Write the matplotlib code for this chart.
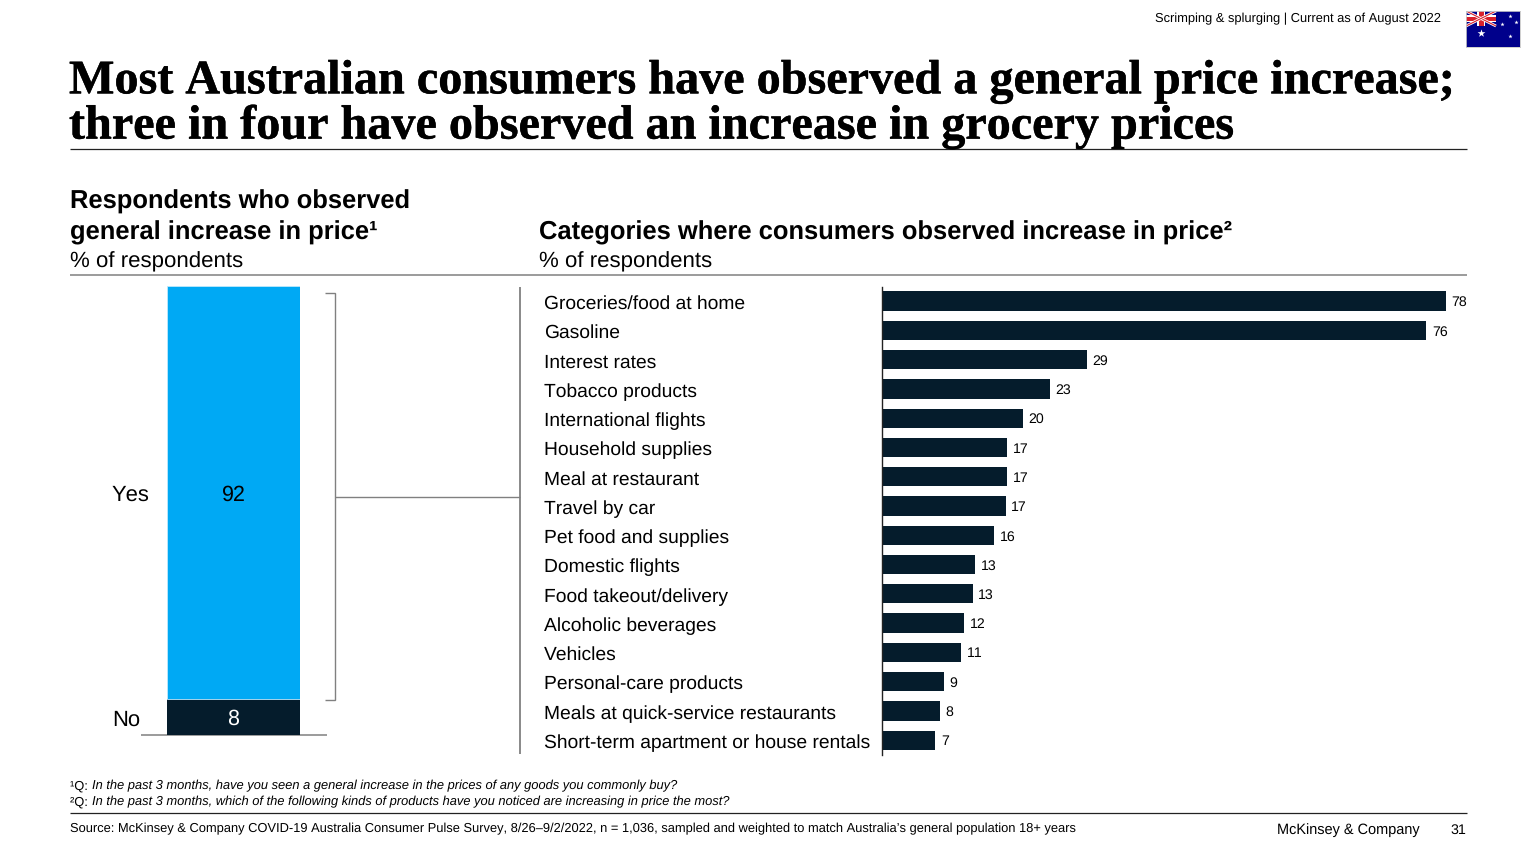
import matplotlib
matplotlib.use("Agg")
import matplotlib.pyplot as plt
import matplotlib.patheffects as pe
from matplotlib.patches import Rectangle
from matplotlib.transforms import ScaledTranslation

W, H = 1536, 864
SANS = "Liberation Sans"
SERIF = "Liberation Serif"
NAVY = "#051C2C"
BLUE = "#00A9F4"
GRAY = "#808080"

categories = [
    "Groceries/food at home", "Gasoline", "Interest rates", "Tobacco products",
    "International flights", "Household supplies", "Meal at restaurant",
    "Travel by car", "Pet food and supplies", "Domestic flights",
    "Food takeout/delivery", "Alcoholic beverages", "Vehicles",
    "Personal-care products", "Meals at quick-service restaurants",
    "Short-term apartment or house rentals",
]
category_values = [78.3, 75.6, 28.5, 23.3, 19.6, 17.4, 17.4, 17.2,
                   15.6, 12.9, 12.6, 11.4, 11.0, 8.6, 8.1, 7.4]
category_labels = [78, 76, 29, 23, 20, 17, 17, 17, 16, 13, 13, 12, 11, 9, 8, 7]
general_labels = ["No", "Yes"]
general_values = [8, 92]

plt.rcParams["font.family"] = [SANS, "DejaVu Sans"]
plt.rcParams["text.hinting"] = "no_hinting"
plt.rcParams["text.kerning_factor"] = 6
fig = plt.figure(figsize=(W / 100, H / 100), dpi=100)


def px_axes(x0, y0, x1, y1, **kwargs):
    """Axes from pixel box, y counted from the top of the image"""
    return fig.add_axes([x0 / W, 1 - y1 / H, (x1 - x0) / W, (y1 - y0) / H], **kwargs)


bg = px_axes(0, 0, W, H)
bg.set_xlim(0, W)
bg.set_ylim(H, 0)
bg.axis("off")


def label(x, y, s, size=14.5, **kwargs):
    kwargs.setdefault("va", "center")
    kwargs.setdefault("color", "black")
    return bg.text(x, y, s, fontsize=size, **kwargs)


def rule(xs, ys, lw=1.0, color=GRAY):
    bg.plot(xs, ys, color=color, lw=lw, solid_capstyle="butt", solid_joinstyle="miter")


# header
label(1441, 18.5, "Scrimping & splurging | Current as of August 2022", size=9.3, ha="right")
title_lines = [
    (82, "Most Australian consumers have observed a general price increase;"),
    (127, "three in four have observed an increase in grocery prices"),
]
for y, line in title_lines:
    t = label(69, y, line, size=34.68, family=SERIF, weight="bold")
    t.set_path_effects([pe.withStroke(linewidth=0.3, foreground="black")])
rule([70, 1467], [149, 149], lw=0.9, color="#222222")

# flag
flag = px_axes(1466, 11, 1520, 47)
flag.set_xlim(0, 54)
flag.set_ylim(36, 0)
flag.set_xticks([])
flag.set_yticks([])
flag.set_facecolor("#00008B")
for s in flag.spines.values():
    s.set_color("#C8C8C8")
    s.set_linewidth(0.6)
for (x0, y0, x1, y1) in [(0, 0, 30, 15), (0, 15, 30, 0)]:
    flag.plot([x0, x1], [y0, y1], color="white", lw=2.0, solid_capstyle="butt")
    flag.plot([x0, x1], [y0, y1], color="#D8202C", lw=0.8, solid_capstyle="butt")
flag.add_patch(Rectangle((11, 0), 8, 15, color="white", lw=0))
flag.add_patch(Rectangle((0, 4), 30, 7, color="white", lw=0))
flag.add_patch(Rectangle((12.5, 0), 5, 15, color="#D8202C", lw=0))
flag.add_patch(Rectangle((0, 5.5), 30, 4, color="#D8202C", lw=0))
flag.scatter([15], [22], marker="*", s=35, color="white", lw=0)
flag.scatter([44, 36, 50, 44], [5, 13, 11, 25], marker="*", s=10, color="white", lw=0)

# section headings
label(70, 202, "Respondents who observed", size=18.38, weight="bold")
label(70, 233, "general increase in price¹", size=18.38, weight="bold")
label(70, 261.5, "% of respondents", size=16)
label(539, 233, "Categories where consumers observed increase in price²", size=18.38, weight="bold")
label(539, 261.5, "% of respondents", size=16)
rule([70, 1467], [275, 275], lw=1.1)

# left stacked bar
left = px_axes(167, 286, 300, 735)
left.bar([0], [general_values[0]], width=1, color=NAVY)
left.bar([0], [general_values[1]], width=1, bottom=[general_values[0]], color=BLUE,
         edgecolor="#BFE9FC", linewidth=0.6)
left.set_xlim(-0.5, 0.5)
left.set_ylim(0, sum(general_values))
left.axis("off")
left.text(0, general_values[0] / 2, str(general_values[0]), color="white",
          ha="center", va="center_baseline", fontsize=15.5)
left.text(0, general_values[0] + general_values[1] / 2, str(general_values[1]), color="black",
          ha="center", va="center_baseline", fontsize=15.5)
label(112, 495.5, general_labels[1], size=15.8)
label(112, 720.5, general_labels[0], size=15.8)
rule([141, 327], [735, 735], lw=1.1)

# bracket and connector
rule([325, 335, 335, 325], [293, 293, 700, 700], lw=1.0)
rule([335, 520], [496.5, 496.5], lw=1.0)
rule([520, 520], [287, 754], lw=1.3)

# right bars
bar_top, bar_pitch = 286.5, 29.27
ax = px_axes(882, bar_top, 1482, bar_top + bar_pitch * len(categories))
ypos = list(range(len(categories)))
ax.barh(ypos, category_values, height=0.66, color=NAVY)
ax.set_xlim(0, 600 / 7.2)
ax.set_ylim(len(categories) - 0.5, -0.5)
ax.patch.set_visible(False)
for side in ["top", "right", "bottom"]:
    ax.spines[side].set_visible(False)
ax.spines["left"].set_linewidth(1.0)
ax.spines["left"].set_color("#222222")
ax.set_xticks([])
ax.set_yticks(ypos)
ax.set_yticklabels(categories, ha="left", fontsize=13.86)
ax.tick_params(axis="y", length=0, pad=338 * 0.72)
# labels sit about a pixel under the bar centre
nudge = ScaledTranslation(0, -1 / 100, fig.dpi_scale_trans)
for tick_label in ax.get_yticklabels():
    tick_label.set_transform(tick_label.get_transform() + nudge)
for y, v, t in zip(ypos, category_values, category_labels):
    ax.annotate(str(t), (v, y), xytext=(4, 0), textcoords="offset points",
                va="center_baseline", ha="left", fontsize=10.2)

# footnotes
label(70, 786, "¹Q: ", size=9.31)
label(92, 786, "In the past 3 months, have you seen a general increase in the prices of any goods you commonly buy?",
      size=9.31, style="italic")
label(70, 802, "²Q: ", size=9.31)
label(92, 802, "In the past 3 months, which of the following kinds of products have you noticed are increasing in price the most?",
      size=9.31, style="italic")
rule([70, 1467], [813, 813], lw=0.9, color="#222222")
label(70, 829, "Source: McKinsey & Company COVID-19 Australia Consumer Pulse Survey, 8/26–9/2/2022, n = 1,036, "
      "sampled and weighted to match Australia’s general population 18+ years", size=9.28)
label(1420, 830.5, "McKinsey & Company", size=10.45, ha="right")
label(1466, 830.5, "31", size=10.3, ha="right")

fig.savefig("out.png", dpi=100)
